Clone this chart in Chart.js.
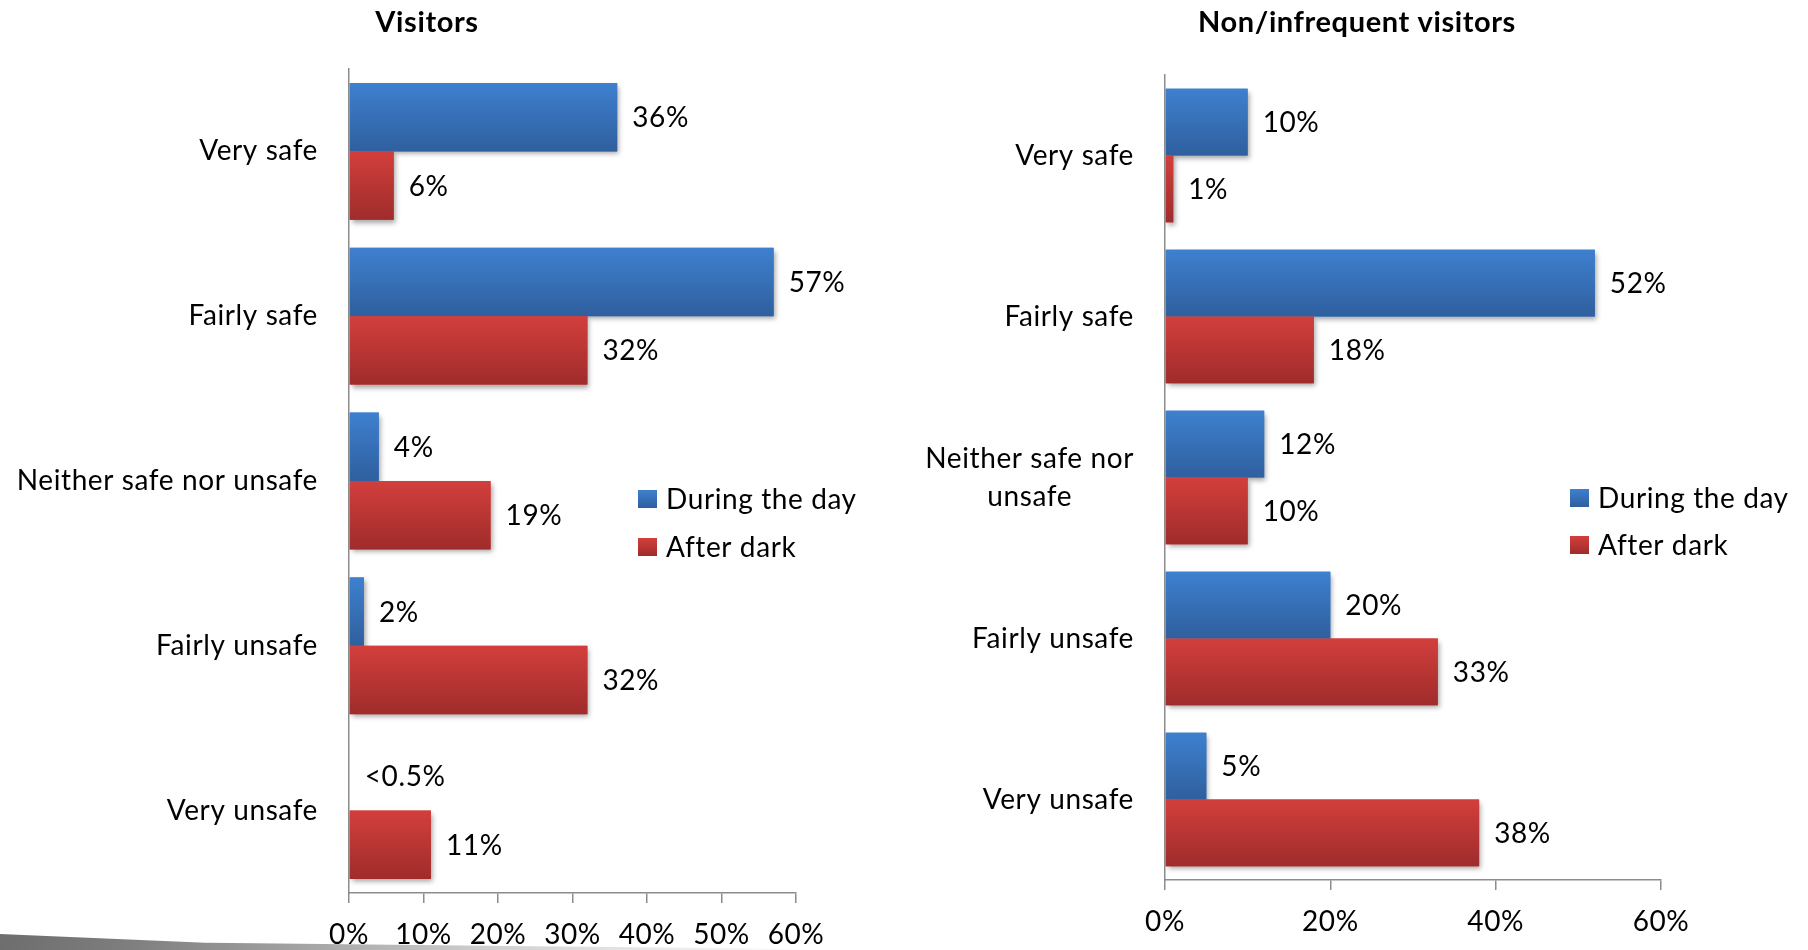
<!DOCTYPE html>
<html>
<head>
<meta charset="utf-8">
<script src="https://cdn.jsdelivr.net/npm/chart.js@4/dist/chart.umd.min.js"></script>
<style>
    body { margin: 0; background: #fff; width: 1808px; height: 950px; overflow: hidden; position: relative; }
    canvas { position: absolute; top: 0; z-index: 2; }
    #visitorsChart { left: 0; }
    #nonVisitorsChart { left: 900px; }
    .swoosh {
        position: absolute; left: 0; top: 934px; width: 820px; height: 16px; z-index: 1;
        background: linear-gradient(to right, #6e6e6e 0%, #7d7d7d 15%, #a0a0a0 35%, #d0d0d0 60%, #eeeeee 85%, rgba(255,255,255,0) 100%);
        clip-path: polygon(0 0, 25% 55%, 100% 95%, 100% 100%, 0 100%);
    }
</style>
</head>
<body>
<canvas id="visitorsChart" width="900" height="950"></canvas>
<canvas id="nonVisitorsChart" width="908" height="950"></canvas>
<div class="swoosh"></div>
<script>
// 数据
const categories = ['Very safe', 'Fairly safe', ['Neither safe nor', 'unsafe'], 'Fairly unsafe', 'Very unsafe'];
const seriesNames = ['During the day', 'After dark'];
const visitorsDay = [36, 57, 4, 2, 0.1];
const visitorsDark = [6, 32, 19, 32, 11];
const nonVisitorsDay = [10, 52, 12, 20, 5];
const nonVisitorsDark = [1, 18, 10, 33, 38];
const visitorsTickStep = 10;
const nonVisitorsTickStep = 20;
const axisMax = 60;

const FONT = 'Lato, "Open Sans", sans-serif';
const SPACING = '0.6px';
const BLUE = ['#3e80cf', '#2f5f9e'];
const RED = ['#d23f3c', '#9f2c2b'];

function pctText(v) {
    return v < 0.5 ? '<0.5%' : v + '%';
}

function vGradient(ctx, top, bottom, colors) {
    const g = ctx.createLinearGradient(0, top, 0, bottom);
    g.addColorStop(0, colors[0]);
    g.addColorStop(1, colors[1]);
    return g;
}

// 柱子阴影 + 渐变 + 数值标签
const barStylePlugin = {
    id: 'barStyle',
    beforeDraw(chart) {
        chart.ctx.letterSpacing = SPACING;
    },
    beforeDatasetsDraw(chart) {
        const ctx = chart.ctx;
        ctx.save();
        ctx.shadowColor = 'rgba(0,0,0,0.35)';
        ctx.shadowBlur = 5;
        ctx.shadowOffsetX = 2;
        ctx.shadowOffsetY = 3;
    },
    afterDatasetsDraw(chart) {
        const ctx = chart.ctx;
        ctx.restore();
        ctx.save();
        chart.data.datasets.forEach((ds, i) => {
            const colors = i === 0 ? BLUE : RED;
            chart.getDatasetMeta(i).data.forEach((bar) => {
                const top = bar.y - bar.height / 2;
                const left = Math.min(bar.base, bar.x);
                const w = Math.abs(bar.x - bar.base);
                ctx.fillStyle = vGradient(ctx, top, top + bar.height, colors);
                ctx.fillRect(left, top, w, bar.height);
            });
        });
        ctx.font = '28px ' + FONT;
        ctx.letterSpacing = SPACING;
        ctx.fillStyle = '#000';
        ctx.textBaseline = 'middle';
        ctx.textAlign = 'left';
        chart.data.datasets.forEach((ds, i) => {
            chart.getDatasetMeta(i).data.forEach((bar, j) => {
                ctx.fillText(pctText(ds.data[j]), bar.x + 15, bar.y + 1);
            });
        });
        ctx.restore();
    }
};

// 分类标签、标题、图例
const panelPlugin = {
    id: 'panel',
    afterDraw(chart, args, opts) {
        const ctx = chart.ctx;
        const yScale = chart.scales.y;
        const area = chart.chartArea;
        ctx.save();
        ctx.letterSpacing = SPACING;
        ctx.fillStyle = '#000';
        ctx.textBaseline = 'middle';

        // 分类标签
        ctx.font = '28px ' + FONT;
        chart.data.labels.forEach((lab, i) => {
            const y = yScale.getPixelForTick(i);
            const right = area.left - 31;
            if (Array.isArray(lab) && opts.wrap) {
                const widths = lab.map(t => ctx.measureText(t).width);
                const cx = right - Math.max(...widths) / 2;
                ctx.textAlign = 'center';
                lab.forEach((t, k) => {
                    ctx.fillText(t, cx, y + (k - (lab.length - 1) / 2) * 38);
                });
            } else {
                ctx.textAlign = 'right';
                ctx.fillText(Array.isArray(lab) ? lab.join(' ') : lab, right, y);
            }
        });

        // 标题
        ctx.font = 'bold 29px ' + FONT;
        ctx.textAlign = 'center';
        ctx.fillText(opts.title, opts.titleX, 23);

        // 图例
        ctx.font = '28px ' + FONT;
        ctx.textAlign = 'left';
        chart.data.datasets.forEach((ds, i) => {
            const y = opts.legendY[i];
            const colors = i === 0 ? BLUE : RED;
            ctx.fillStyle = vGradient(ctx, y - 9, y + 9, colors);
            ctx.fillRect(opts.legendX, y - 9, 19, 18);
            ctx.fillStyle = '#000';
            ctx.fillText(ds.label, opts.legendX + 28, y + 1);
        });
        ctx.restore();
    }
};

function makeChart(id, day, dark, step, cfg) {
    const ctx = document.getElementById(id);
    return new Chart(ctx, {
        type: 'bar',
        data: {
            labels: categories,
            datasets: [
                { label: seriesNames[0], data: day, backgroundColor: BLUE[0] },
                { label: seriesNames[1], data: dark, backgroundColor: RED[0] }
            ]
        },
        options: {
            indexAxis: 'y',
            responsive: false,
            animation: false,
            layout: { padding: { left: 0, right: cfg.padRight, top: cfg.padTop, bottom: 0 } },
            datasets: { bar: { categoryPercentage: 0.83, barPercentage: 1 } },
            plugins: {
                legend: { display: false },
                tooltip: { enabled: false },
                panel: cfg.panel
            },
            scales: {
                y: {
                    grid: { display: false },
                    border: { color: '#8c8c8c', width: 1.5 },
                    ticks: { display: false },
                    afterFit(s) { s.width = cfg.yWidth; }
                },
                x: {
                    min: 0,
                    max: axisMax,
                    grid: { drawOnChartArea: false, drawTicks: true, tickLength: 10, color: '#8c8c8c', lineWidth: 1.5 },
                    border: { color: '#8c8c8c', width: 1.5 },
                    ticks: {
                        stepSize: step,
                        padding: 15,
                        color: '#000',
                        font: { family: FONT, size: 28 },
                        callback: v => v + '%'
                    },
                    afterFit(s) { s.height = cfg.xHeight; }
                }
            }
        },
        plugins: [barStylePlugin, panelPlugin]
    });
}

makeChart('visitorsChart', visitorsDay, visitorsDark, visitorsTickStep, {
    padRight: 104, padTop: 69, yWidth: 349, xHeight: 57,
    panel: { title: 'Visitors', titleX: 427, legendX: 638, legendY: [499, 547], wrap: false }
});

makeChart('nonVisitorsChart', nonVisitorsDay, nonVisitorsDark, nonVisitorsTickStep, {
    padRight: 147, padTop: 75, yWidth: 265, xHeight: 70,
    panel: { title: 'Non/infrequent visitors', titleX: 457, legendX: 670, legendY: [498, 545], wrap: true }
});
</script>
</body>
</html>
